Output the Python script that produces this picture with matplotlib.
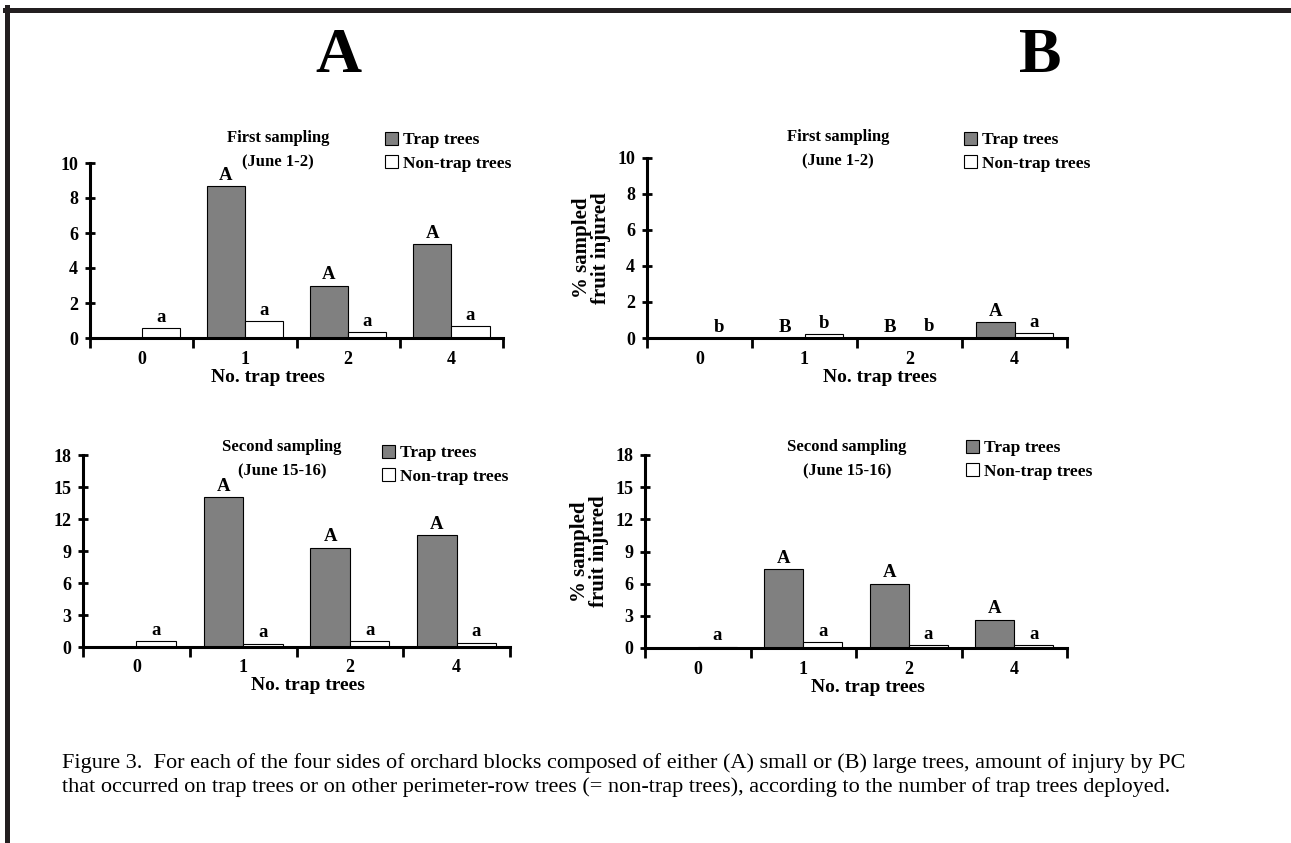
import matplotlib
matplotlib.use("Agg")
import matplotlib.pyplot as plt
from matplotlib.lines import Line2D
import numpy as np

plt.rcParams['font.family'] = ['Liberation Serif', 'DejaVu Serif']
plt.rcParams['font.weight'] = 'bold'

W, H = 1291, 843

categories = ['0', '1', '2', '4']

# panel A (small trees)
a1_trap = [0, 8.7, 3.0, 5.35]
a1_non = [0.55, 0.97, 0.32, 0.7]
a1_trap_lbl = ['', 'A', 'A', 'A']
a1_non_lbl = ['a', 'a', 'a', 'a']

a2_trap = [0, 14.05, 9.3, 10.5]
a2_non = [0.55, 0.3, 0.55, 0.4]
a2_trap_lbl = ['', 'A', 'A', 'A']
a2_non_lbl = ['a', 'a', 'a', 'a']

# panel B (large trees)
b1_trap = [0, 0, 0, 0.88]
b1_non = [0, 0.2, 0.02, 0.28]
b1_trap_lbl = ['', 'B', 'B', 'A']
b1_non_lbl = ['b', 'b', 'b', 'a']

b2_trap = [0, 7.35, 6.0, 2.65]
b2_non = [0.12, 0.55, 0.25, 0.25]
b2_trap_lbl = ['', 'A', 'A', 'A']
b2_non_lbl = ['a', 'a', 'a', 'a']

caption_lines = [
    "Figure 3.  For each of the four sides of orchard blocks composed of either (A) small or (B) large trees, amount of injury by PC",
    "that occurred on trap trees or on other perimeter-row trees (= non-trap trees), according to the number of trap trees deployed.",
]

fig = plt.figure(figsize=(W / 100, H / 100), dpi=100)


def px_axes(l, r, b, t):
    return fig.add_axes([l / W, 1 - b / H, (r - l) / W, (b - t) / H])


def panel(ax, trap, non, trap_lbl, non_lbl, ymax, ystep, title, ylab, xlab_pos,
          title_pos, leg_pos):
    x = np.arange(len(categories))
    w = 0.37
    ax.bar(x - w / 2, trap, w, color='#808080', edgecolor='black', linewidth=0.8,
           label='Trap trees')
    ax.bar(x + w / 2, non, w, color='white', edgecolor='black', linewidth=0.8,
           label='Non-trap trees')
    off = ymax * 0.012
    for i in range(len(x)):
        if trap_lbl[i]:
            ax.text(x[i] - w / 2, trap[i] + off, trap_lbl[i], ha='center', va='bottom',
                    fontsize=13.5, fontweight='bold')
        if non_lbl[i]:
            ax.text(x[i] + w / 2, non[i] + off, non_lbl[i], ha='center', va='bottom',
                    fontsize=13.5, fontweight='bold')
    ax.set_xlim(-0.5, 3.5)
    ax.set_ylim(0, ymax)
    ax.set_yticks(np.arange(0, ymax + 0.1, ystep))
    ax.set_xticks(x)
    ax.set_xticklabels(categories)
    ax.set_xticks(np.arange(-0.5, 3.6, 1), minor=True)
    ax.tick_params(axis='x', which='major', length=0, pad=9, labelsize=13)
    ax.tick_params(axis='x', which='minor', length=7, width=2, direction='out')
    ax.tick_params(axis='y', length=7, width=2, direction='inout', labelsize=13, pad=5)
    for s in ['top', 'right']:
        ax.spines[s].set_visible(False)
    for s in ['left', 'bottom']:
        ax.spines[s].set_linewidth(2.2)
    for t in ax.get_xticklabels() + ax.get_yticklabels():
        t.set_fontweight('bold')
    if ylab:
        ax.set_ylabel('% sampled\nfruit injured', fontsize=15, fontweight='bold',
                      linespacing=0.95)
        ax.yaxis.set_label_coords(-0.085, 0.5)
    ax.set_xlabel('No. trap trees', fontsize=14, fontweight='bold')
    l, b, wd, ht = ax.get_position().bounds
    ax.xaxis.set_label_coords((xlab_pos[0] / W - l) / wd, (1 - xlab_pos[1] / H - b) / ht)
    ax.xaxis.label.set_va('center')
    fig.text(title_pos[0] / W, 1 - title_pos[1] / H, title, ha='center', va='center',
             fontsize=12, fontweight='bold', linespacing=1.7)
    ax.legend(loc='upper left', bbox_to_anchor=(leg_pos[0] / W, 1 - leg_pos[1] / H),
              bbox_transform=fig.transFigure, frameon=False, borderaxespad=0,
              handlelength=0.75, handleheight=0.75, handletextpad=0.3,
              labelspacing=0.4, prop={'weight': 'bold', 'size': 12.5})


ax1 = px_axes(90, 503, 338, 163)
panel(ax1, a1_trap, a1_non, a1_trap_lbl, a1_non_lbl, 10, 2,
      'First sampling\n(June 1-2)', False, (268, 377), (278, 150), (378, 125))

ax2 = px_axes(647, 1067, 338, 158)
panel(ax2, b1_trap, b1_non, b1_trap_lbl, b1_non_lbl, 10, 2,
      'First sampling\n(June 1-2)', True, (880, 377), (838, 149), (957, 125))

ax3 = px_axes(83, 510, 647, 455)
panel(ax3, a2_trap, a2_non, a2_trap_lbl, a2_non_lbl, 18, 3,
      'Second sampling\n(June 15-16)', False, (308, 686), (282, 459), (375, 438))

ax4 = px_axes(645, 1067, 648, 455)
panel(ax4, b2_trap, b2_non, b2_trap_lbl, b2_non_lbl, 18, 3,
      'Second sampling\n(June 15-16)', True, (868, 688), (847, 459), (959, 433))

fig.text(338 / W, 1 - 57 / H, 'A', ha='center', va='center', fontsize=46, fontweight='bold')
fig.text(1040 / W, 1 - 57 / H, 'B', ha='center', va='center', fontsize=46, fontweight='bold')

for k, line in enumerate(caption_lines):
    fig.text(62 / W, 1 - (763 + 24 * k) / H, line, ha='left', va='center', fontsize=16,
             fontweight='normal')

# page border (top and left edges)
fig.add_artist(Line2D([5 / W, 1], [1 - 9.5 / H, 1 - 9.5 / H], transform=fig.transFigure,
                      color='#231f20', linewidth=3.6))
fig.add_artist(Line2D([6.5 / W, 6.5 / W], [1 - 7 / H, 0], transform=fig.transFigure,
                      color='#231f20', linewidth=3.6))

fig.savefig('out.png', dpi=100)
